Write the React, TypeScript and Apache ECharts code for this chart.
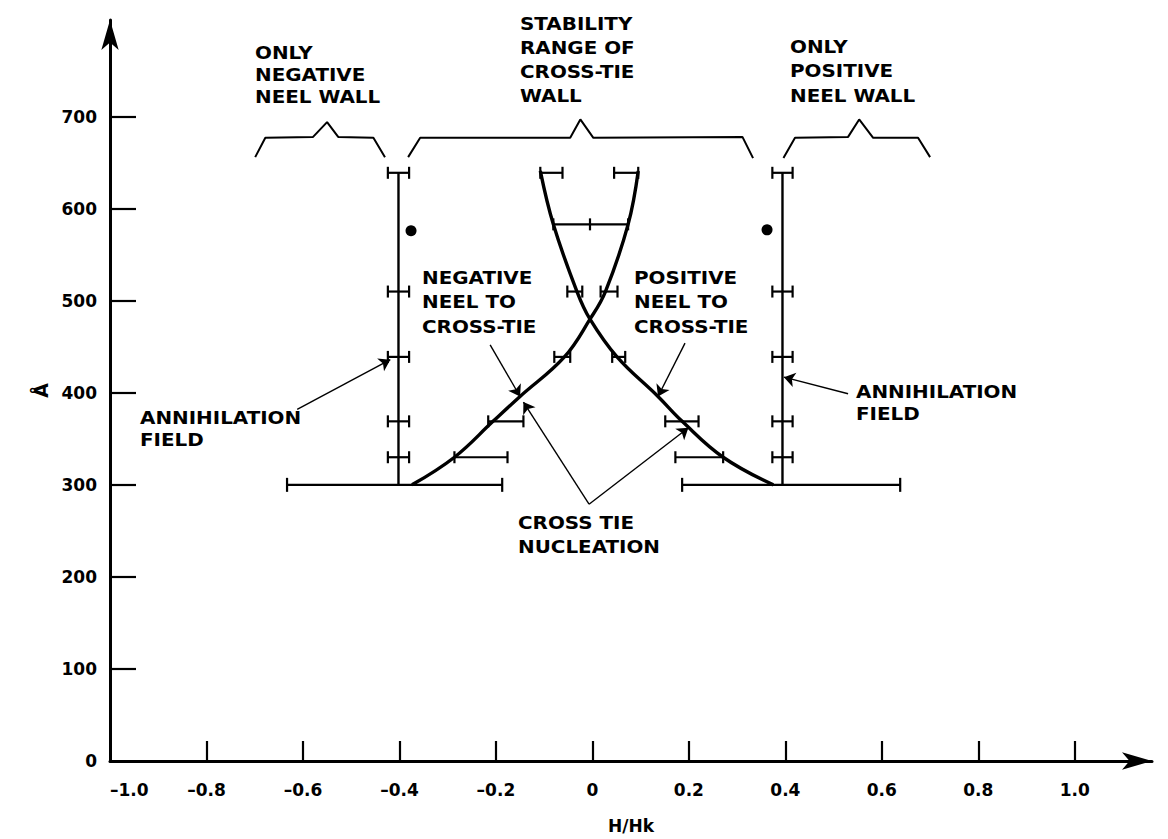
import React, { useEffect, useRef } from "react";
import * as echarts from "echarts";

// ---- axis ticks ----
const xTickValues = [-1.0, -0.8, -0.6, -0.4, -0.2, 0, 0.2, 0.4, 0.6, 0.8, 1.0];
const xTickLabels = ["–1.0", "–0.8", "–0.6", "–0.4", "–0.2", "0", "0.2", "0.4", "0.6", "0.8", "1.0"];
const yTickValues = [0, 100, 200, 300, 400, 500, 600, 700];
const yTickLabels = ["0", "100", "200", "300", "400", "500", "600", "700"];

// ---- annihilation field walls (x, y) ----
const negWallLine = [[-0.402, 300], [-0.402, 640]];
const posWallLine = [[0.394, 300], [0.394, 640]];

// ---- Neel to cross-tie transition curves (x, y) ----
const negNeelCurve = [
  [-0.374, 300], [-0.286, 330], [-0.206, 369], [-0.15, 396], [-0.058, 439],
  [-0.005, 480], [0.027, 510], [0.074, 583], [0.095, 641],
];
const posNeelCurve = [
  [0.375, 300], [0.271, 330], [0.186, 369], [0.136, 396], [0.051, 439],
  [-0.005, 480], [-0.032, 510], [-0.081, 583], [-0.108, 641],
];

// ---- error bars: [y, xLow, xHigh, (xMid)] ----
const negWallBars = [
  [639, -0.424, -0.38], [510, -0.424, -0.38], [439, -0.424, -0.38],
  [369, -0.424, -0.38], [330, -0.424, -0.38],
];
const posWallBars = [
  [639, 0.373, 0.415], [510, 0.373, 0.415], [439, 0.373, 0.415],
  [369, 0.373, 0.415], [330, 0.373, 0.415],
];
const baseBars = [
  [300, -0.633, -0.187], [300, 0.186, 0.638],
];
const curveBars = [
  [330, -0.286, -0.176], [330, 0.172, 0.271],
  [369, -0.216, -0.143], [369, 0.151, 0.22],
  [439, -0.079, -0.046], [439, 0.041, 0.068],
  [510, 0.017, 0.052], [510, -0.052, -0.021],
  [583, -0.081, 0.074, -0.005],
  [639, -0.108, -0.062], [639, 0.045, 0.095],
];

// ---- single points ----
const dots = [[-0.376, 576], [0.362, 577]];

// ---- range brackets ----
const negBracket = [
  [-0.699, 656], [-0.678, 677], [-0.579, 678], [-0.55, 694], [-0.527, 678], [-0.454, 677], [-0.43, 656],
];
const midBracket = [
  [-0.382, 656], [-0.357, 677], [-0.046, 677], [-0.025, 697], [0.002, 677], [0.311, 678], [0.333, 655],
];
const posBracket = [
  [0.396, 655], [0.42, 677], [0.53, 678], [0.553, 697], [0.582, 677], [0.675, 677], [0.7, 656],
];

// ---- annotation arrows [from, to] ----
const arrowLines = [
  [[-0.612, 382], [-0.419, 436]],
  [[0.53, 399], [0.397, 417]],
  [[-0.212, 452], [-0.15, 396]],
  [[0.192, 454], [0.136, 396]],
  [[-0.007, 279], [-0.143, 390]],
  [[-0.007, 279], [0.199, 362]],
];

// ---- annotation texts ----
const annoTexts = [
  { lines: ["ONLY", "NEGATIVE", "NEEL WALL"], x: 255, y: [53, 75, 97] },
  { lines: ["STABILITY", "RANGE OF", "CROSS-TIE", "WALL"], x: 520, y: [24, 48, 72, 96] },
  { lines: ["ONLY", "POSITIVE", "NEEL WALL"], x: 790, y: [47, 71, 96] },
  { lines: ["NEGATIVE", "NEEL TO", "CROSS-TIE"], x: 422, y: [278, 302, 327] },
  { lines: ["POSITIVE", "NEEL TO", "CROSS-TIE"], x: 634, y: [278, 302, 327] },
  { lines: ["CROSS TIE", "NUCLEATION"], x: 518, y: [523, 547] },
  { lines: ["ANNIHILATION", "FIELD"], x: 140, y: [418, 440] },
  { lines: ["ANNIHILATION", "FIELD"], x: 856, y: [392, 414] },
];

const FONT = "DejaVu Sans";
const INK = "#000";

function labelFor(values: number[], labels: string[], v: number) {
  const i = values.findIndex((t) => Math.abs(t - v) < 1e-6);
  return i >= 0 ? labels[i] : "";
}

function errorBarSeries(name: string, data: number[][], cap: number) {
  return {
    name,
    type: "custom",
    data,
    dimensions: ["y", "lo", "hi", "mid"],
    encode: { x: [1, 2], y: 0 },
    z: 3,
    renderItem: (params: any, api: any) => {
      const y = api.value(0);
      const lo = api.value(1);
      const hi = api.value(2);
      const mid = api.value(3);
      const p1 = api.coord([lo, y]);
      const p2 = api.coord([hi, y]);
      const style = { stroke: INK, lineWidth: 2.2, fill: null };
      const children: any[] = [
        { type: "line", shape: { x1: p1[0], y1: p1[1], x2: p2[0], y2: p2[1] }, style },
        { type: "line", shape: { x1: p1[0], y1: p1[1] - cap, x2: p1[0], y2: p1[1] + cap }, style },
        { type: "line", shape: { x1: p2[0], y1: p2[1] - cap, x2: p2[0], y2: p2[1] + cap }, style },
      ];
      if (typeof mid === "number" && !isNaN(mid)) {
        const pm = api.coord([mid, y]);
        children.push({ type: "line", shape: { x1: pm[0], y1: pm[1] - cap, x2: pm[0], y2: pm[1] + cap }, style });
      }
      return { type: "group", children };
    },
  };
}

function lineSeries(name: string, data: number[][], width: number, smooth: number | boolean) {
  return {
    name,
    type: "line",
    data,
    smooth,
    symbol: "none",
    lineStyle: { color: INK, width },
    z: 2,
  };
}

export default function App() {
  const ref = useRef<HTMLDivElement>(null);

  useEffect(() => {
    if (!ref.current) return;
    const chart = echarts.init(ref.current, null, { renderer: "svg" });

    const graphics: any[] = [];
    annoTexts.forEach((t) => {
      t.lines.forEach((line, i) => {
        graphics.push({
          type: "text",
          x: t.x,
          y: t.y[i],
          scaleX: 1.17,
          style: {
            text: line,
            fill: INK,
            font: `bold 17px "${FONT}"`,
            textAlign: "left",
            textVerticalAlign: "middle",
          },
          z: 10,
        });
      });
    });

    const axisLabelStyle = {
      color: INK,
      fontFamily: FONT,
      fontWeight: "bold",
      fontSize: 17,
    };

    const option: any = {
      animation: false,
      backgroundColor: "#fff",
      grid: { left: 110, right: 16, top: 20, bottom: 77 },
      xAxis: {
        type: "value",
        min: -1,
        max: 1.16,
        name: "H/Hk",
        nameLocation: "middle",
        nameGap: 56,
        nameTextStyle: { ...axisLabelStyle, fontSize: 17 },
        axisLine: {
          show: true,
          onZero: false,
          symbol: ["none", "arrow"],
          symbolSize: [13, 30],
          lineStyle: { color: INK, width: 3 },
        },
        axisTick: {
          show: true,
          inside: true,
          length: 20,
          customValues: xTickValues.slice(1),
          lineStyle: { color: INK, width: 2.2 },
        },
        axisLabel: {
          ...axisLabelStyle,
          margin: 20,
          alignMinLabel: "left",
          customValues: xTickValues,
          formatter: (v: number) => labelFor(xTickValues, xTickLabels, v),
        },
        splitLine: { show: false },
      },
      yAxis: {
        type: "value",
        min: 0,
        max: 805,
        name: "Å",
        nameLocation: "middle",
        nameRotate: 90,
        nameGap: 58,
        nameTextStyle: { ...axisLabelStyle, fontSize: 19 },
        axisLine: {
          show: true,
          onZero: false,
          symbol: ["none", "arrow"],
          symbolSize: [13, 30],
          lineStyle: { color: INK, width: 3 },
        },
        axisTick: {
          show: true,
          inside: true,
          length: 26,
          customValues: yTickValues.slice(1),
          lineStyle: { color: INK, width: 2.2 },
        },
        axisLabel: {
          ...axisLabelStyle,
          margin: 13,
          customValues: yTickValues,
          formatter: (v: number) => labelFor(yTickValues, yTickLabels, v),
        },
        splitLine: { show: false },
      },
      series: [
        lineSeries("negWall", negWallLine, 2.4, false),
        lineSeries("posWall", posWallLine, 2.4, false),
        lineSeries("negNeel", negNeelCurve, 3.4, 0.4),
        lineSeries("posNeel", posNeelCurve, 3.4, 0.4),
        lineSeries("negBracket", negBracket, 2, false),
        lineSeries("midBracket", midBracket, 2, false),
        lineSeries("posBracket", posBracket, 2, false),
        errorBarSeries("negWallBars", negWallBars, 6),
        errorBarSeries("posWallBars", posWallBars, 6),
        errorBarSeries("baseBars", baseBars, 7),
        errorBarSeries("curveBars", curveBars, 6),
        {
          name: "dots",
          type: "scatter",
          data: dots,
          symbol: "circle",
          symbolSize: 11,
          itemStyle: { color: INK, opacity: 1 },
          z: 4,
        },
        {
          name: "arrows",
          type: "lines",
          coordinateSystem: "cartesian2d",
          data: arrowLines.map((c) => ({ coords: c })),
          symbol: ["none", "arrow"],
          symbolSize: 11,
          lineStyle: { color: INK, width: 1.4, opacity: 1, curveness: 0 },
          z: 5,
        },
      ],
      graphic: graphics,
    };

    chart.setOption(option);
    return () => chart.dispose();
  }, []);

  return (
    <div
      ref={ref}
      style={{ position: "fixed", left: 0, top: 0, width: 1168, height: 839, background: "#fff" }}
    />
  );
}
